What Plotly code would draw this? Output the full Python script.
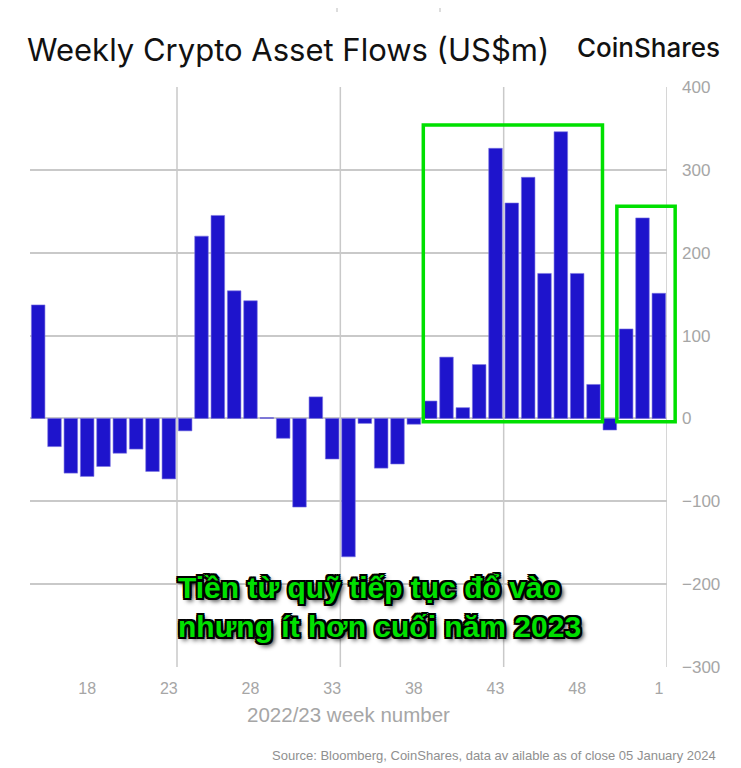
import plotly.graph_objects as go

# weekly flows, US$m
weeks = [str(w) for w in range(15, 53)] + ["1"]
flows = [137, -34, -66, -70, -58, -42, -37, -64, -73, -15,
         220, 245, 154, 142, 1, -24, -107, 26, -49, -167,
         -6, -60, -55, -7, 21, 74, 13, 65, 326, 260,
         291, 175, 346, 175, 41, -14, 108, 242, 151]
tick_weeks = ["18", "23", "28", "33", "38", "43", "48", "1"]
y_ticks = [-300, -200, -100, 0, 100, 200, 300, 400]

title_text = "Weekly Crypto Asset Flows (US$m)"
brand_text = "CoinShares"
x_title = "2022/23 week number"
source_text = "Source: Bloomberg, CoinShares, data av ailable as of close 05 January 2024"
note_text = "Tiền từ quỹ tiếp tục đổ vào<br>nhưng ít hơn cuối năm 2023"

# page body adds an 8px margin, so work in screen pixels and shift
OFF = 8
W, H = 741, 768
L, R, T, B = 30 - OFF, W - (667 - OFF), 87 - OFF, H - (667 - OFF)
pw, ph = W - L - R, H - T - B


def px(x):
    return (x - OFF - L) / pw


def py(y):
    return 1 - (y - OFF - T) / ph


def cat_paper(pos):
    # category index -> paper x (axis range is [-0.5, n-0.5])
    return (pos + 0.5) / len(weeks)


grey = "#a6a6a6"
grid = "#c9c9c9"
green = "#00e000"

fig = go.Figure()
fig.add_trace(go.Bar(
    x=weeks, y=flows,
    marker=dict(color="#1e14cc", line=dict(color="#7a74e0", width=0.6)),
    showlegend=False,
))

shapes = []
# vertical grid every 10 weeks, counted from the right edge
for b in [8.5, 18.5, 28.5, 38.5]:
    shapes.append(dict(type="line", xref="x", yref="paper", x0=b, x1=b, y0=0, y1=1,
                       line=dict(color=grid, width=1.5), layer="below"))
# highlight boxes
i39, i49, i51 = weeks.index("39"), weeks.index("49"), weeks.index("51")
shapes.append(dict(type="rect", xref="paper", yref="y",
                   x0=cat_paper(i39 - 0.42), x1=cat_paper(i49 + 0.55),
                   y0=-4, y1=354, line=dict(color=green, width=3.5)))
shapes.append(dict(type="rect", xref="paper", yref="y",
                   x0=cat_paper(i51 - 0.57), x1=cat_paper(len(weeks) - 0.5 + 0.5),
                   y0=-4, y1=256, line=dict(color=green, width=3.5)))
# cropped lines at the very top
for xx in [337, 440]:
    shapes.append(dict(type="line", xref="paper", yref="paper", x0=px(xx), x1=px(xx),
                       y0=py(0), y1=py(12), line=dict(color="#bbbbbb", width=1)))

fig.update_layout(
    width=W, height=H,
    margin=dict(l=L, r=R, t=T, b=B),
    plot_bgcolor="white", paper_bgcolor="white",
    bargap=0.17,
    title=dict(text=title_text, xref="container", yref="container",
               x=(27 - OFF) / W, xanchor="left", y=1 - (50 - OFF) / H, yanchor="middle",
               font=dict(family="Inter", size=31, color="#111111", weight=400)),
    xaxis=dict(type="category", range=[-0.5, len(weeks) - 0.5],
               tickvals=tick_weeks, showgrid=False, zeroline=False,
               tickfont=dict(family="Liberation Sans", size=16, color=grey),
               ticks="", ticklabelstandoff=10,
               title=dict(text=x_title, standoff=11,
                          font=dict(family="Liberation Sans", size=20.5, color=grey))),
    yaxis=dict(side="right", range=[-300, 400], tickvals=y_ticks,
               showgrid=True, gridcolor=grid, gridwidth=1.5, zeroline=False,
               tickfont=dict(family="Liberation Sans", size=17, color=grey),
               ticks="", ticklabelstandoff=14),
    shapes=shapes,
    annotations=[
        dict(text=brand_text, xref="paper", yref="paper", x=px(722), y=py(47),
             xanchor="right", yanchor="middle", showarrow=False,
             font=dict(family="Inter", size=26, color="#111111", weight=500)),
        dict(text=source_text, xref="paper", yref="paper", x=px(718), y=py(755),
             xanchor="right", yanchor="middle", showarrow=False,
             font=dict(family="Liberation Sans", size=13, color="#8f8f8f")),
        dict(text=note_text, xref="paper", yref="paper", x=px(176), y=py(607),
             xanchor="left", yanchor="middle", align="left", showarrow=False,
             font=dict(family="Liberation Sans", size=30, color=green, weight="bold",
                       shadow="-2px -2px 0 #000, 2px -2px 0 #000, -2px 2px 0 #000, "
                              "2px 2px 0 #000, 0 2px 0 #000, 0 -2px 0 #000, "
                              "2px 0 0 #000, -2px 0 0 #000, 3px 3px 5px #000")),
    ],
)

fig.write_html("out.html")
